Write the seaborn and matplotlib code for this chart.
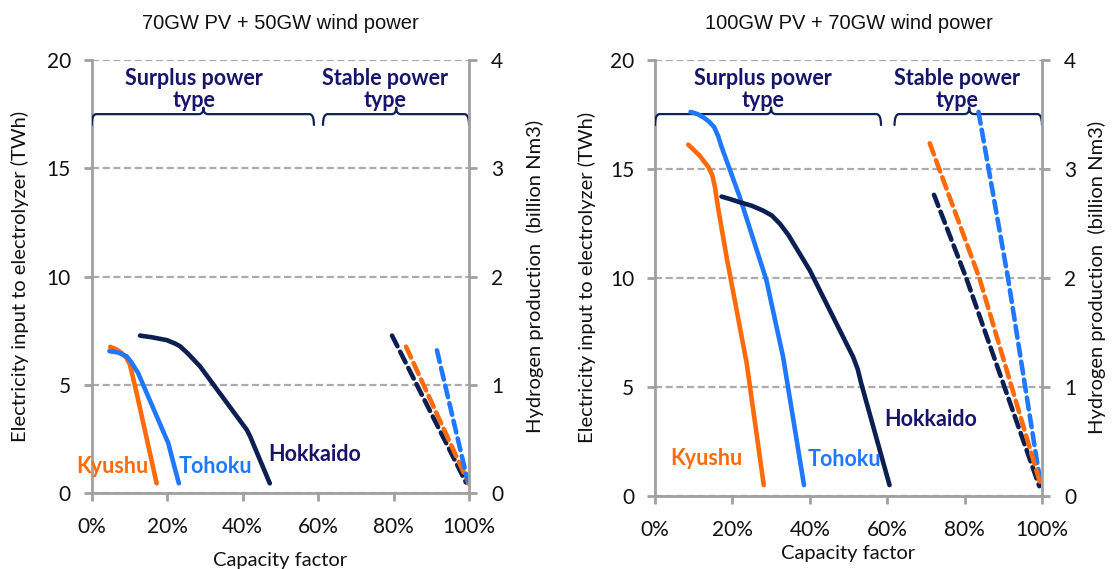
import numpy as np
import pandas as pd
import matplotlib
matplotlib.use("Agg")
import matplotlib.pyplot as plt
from matplotlib.path import Path
from matplotlib.patches import PathPatch
import seaborn as sns

sns.set_theme(style="white")
plt.rcParams["font.family"] = ["Lato", "DejaVu Sans"]

# ---- data: capacity factor (%) vs electricity input (TWh) ----
regions = ["Kyushu", "Tohoku", "Hokkaido"]
colors = {"Kyushu": "#FF6A0A", "Tohoku": "#1F78FF", "Hokkaido": "#0C1F52"}
label_colors = {"Kyushu": "#FF6A0A", "Tohoku": "#1F78FF", "Hokkaido": "#17156B"}

# Case A: 70GW PV + 50GW wind power (surplus power type, solid)
a_kyushu_cf = [4.9, 6.5, 7.9, 9.2, 10.1, 11.0, 12.3, 17.2]
a_kyushu_e = [6.76, 6.65, 6.48, 6.25, 5.95, 5.30, 4.32, 0.46]
a_tohoku_cf = [4.7, 7.0, 9.3, 10.5, 12.3, 20.3, 21.2, 23.1]
a_tohoku_e = [6.56, 6.50, 6.32, 6.05, 5.55, 2.31, 1.70, 0.46]
a_hokkaido_cf = [12.8, 16.0, 19.9, 22.0, 23.4, 25.5, 28.7, 41.1, 42.0, 47.2]
a_hokkaido_e = [7.28, 7.20, 7.07, 6.92, 6.79, 6.45, 5.86, 2.93, 2.62, 0.46]

# Case A: stable power type (dashed)
a_kyushu_st_cf = [83.3, 100.0]
a_kyushu_st_e = [6.77, 0.43]
a_tohoku_st_cf = [91.5, 99.6]
a_tohoku_st_e = [6.60, 0.60]
a_hokkaido_st_cf = [79.6, 99.2]
a_hokkaido_st_e = [7.28, 0.50]

# Case B: 100GW PV + 70GW wind power (surplus power type, solid)
b_kyushu_cf = [8.6, 11.5, 13.8, 14.8, 15.5, 16.3, 18.5, 23.7, 28.1]
b_kyushu_e = [16.1, 15.6, 15.07, 14.7, 14.15, 13.2, 10.95, 6.07, 0.5]
b_tohoku_cf = [9.2, 11.0, 12.5, 14.0, 15.3, 16.3, 17.2, 21.9, 28.8, 33.1, 38.5]
b_tohoku_e = [17.6, 17.5, 17.35, 17.15, 16.9, 16.5, 16.0, 13.7, 9.88, 6.37, 0.5]
b_hokkaido_cf = [17.2, 19.5, 21.9, 25.0, 27.9, 30.2, 32.3, 34.5, 40.0, 51.2, 52.4, 53.3, 60.6]
b_hokkaido_e = [13.72, 13.6, 13.46, 13.3, 13.08, 12.85, 12.47, 11.95, 10.34, 6.37, 5.8, 5.15, 0.5]

# Case B: stable power type (dashed)
b_kyushu_st_cf = [71.0, 83.8, 99.6]
b_kyushu_st_e = [16.16, 10.0, 0.55]
b_tohoku_st_cf = [83.6, 91.2, 99.5]
b_tohoku_st_e = [17.6, 10.0, 0.7]
b_hokkaido_st_cf = [72.1, 80.4, 99.3]
b_hokkaido_st_e = [13.8, 10.0, 0.45]

titles = ["70GW PV + 50GW wind power", "100GW PV + 70GW wind power"]
x_ticks = [0, 20, 40, 60, 80, 100]
y_ticks = [0, 5, 10, 15, 20]
h2_ticks = [0, 1, 2, 3, 4]

# region name labels (cf %, TWh)
a_label_pos = {"Kyushu": (5.6, 1.23), "Tohoku": (32.9, 1.23), "Hokkaido": (59.0, 1.77)}
b_label_pos = {"Kyushu": (13.3, 1.72), "Tohoku": (49.0, 1.65), "Hokkaido": (71.2, 3.49)}

# brace groups: (start, tip, end) in cf %, label centre
a_braces = [(0.0, 29.6, 58.9, 27.0, "Surplus power\ntype"),
            (61.3, 80.7, 100.0, 77.8, "Stable power\ntype")]
b_braces = [(0.0, 30.0, 58.4, 27.8, "Surplus power\ntype"),
            (61.9, 81.2, 100.0, 78.0, "Stable power\ntype")]

cases = [
    dict(title=titles[0],
         solid={"Kyushu": (a_kyushu_cf, a_kyushu_e), "Tohoku": (a_tohoku_cf, a_tohoku_e),
                "Hokkaido": (a_hokkaido_cf, a_hokkaido_e)},
         dashed={"Hokkaido": (a_hokkaido_st_cf, a_hokkaido_st_e), "Kyushu": (a_kyushu_st_cf, a_kyushu_st_e),
                 "Tohoku": (a_tohoku_st_cf, a_tohoku_st_e)},
         labels=a_label_pos, braces=a_braces,
         rect=[0.0824, 0.1330, 0.3390, 0.7616], xlabelpad=11, ylabelpad=13, y2labelpad=16),
    dict(title=titles[1],
         solid={"Kyushu": (b_kyushu_cf, b_kyushu_e), "Tohoku": (b_tohoku_cf, b_tohoku_e),
                "Hokkaido": (b_hokkaido_cf, b_hokkaido_e)},
         dashed={"Hokkaido": (b_hokkaido_st_cf, b_hokkaido_st_e), "Tohoku": (b_tohoku_st_cf, b_tohoku_st_e),
                 "Kyushu": (b_kyushu_st_cf, b_kyushu_st_e)},
         labels=b_label_pos, braces=b_braces,
         rect=[0.5885, 0.1283, 0.3477, 0.7671], xlabelpad=4, ylabelpad=10, y2labelpad=8),
]

GREY = "#A0A0A0"
GRID = "#ABABAB"
NAVY_TEXT = "#17156B"
BRACE = "#0E2257"
TICK_FS = 15
LABEL_FS = 14.5

fig = plt.figure(figsize=(11.13, 5.69), dpi=100)


def draw_brace(ax, x0, xc, x1, y_line=17.5, y_end=17.0, y_tip=17.8, r=1.2):
    verts = [(x0, y_end), (x0, y_line), (x0 + r, y_line),
             (xc - r, y_line), (xc, y_line), (xc, y_tip),
             (xc, y_line), (xc + r, y_line),
             (x1 - r, y_line), (x1, y_line), (x1, y_end)]
    codes = [Path.MOVETO, Path.CURVE3, Path.CURVE3,
             Path.LINETO, Path.CURVE3, Path.CURVE3,
             Path.CURVE3, Path.CURVE3,
             Path.LINETO, Path.CURVE3, Path.CURVE3]
    ax.add_patch(PathPatch(Path(verts, codes), fill=False, edgecolor=BRACE,
                           lw=1.6, capstyle="round", joinstyle="round", zorder=3))


for case in cases:
    ax = fig.add_axes(case["rect"])
    ax.set_xlim(0, 100)
    ax.set_ylim(0, 20)

    for name in regions:
        cf, e = case["solid"][name]
        df = pd.DataFrame({"cf": cf, "e": e})
        sns.lineplot(data=df, x="cf", y="e", ax=ax, sort=False, estimator=None,
                     color=colors[name], lw=3.3, solid_capstyle="round",
                     solid_joinstyle="round", zorder=4)
    for name, (cf, e) in case["dashed"].items():
        df = pd.DataFrame({"cf": cf, "e": e})
        sns.lineplot(data=df, x="cf", y="e", ax=ax, sort=False, estimator=None,
                     color=colors[name], lw=3.3, linestyle=(0, (2.6, 1.35)),
                     dash_capstyle="round", zorder=4)

    # axes styling
    ax.set_xticks(x_ticks)
    ax.set_xticklabels([f"{t}%" for t in x_ticks])
    ax.set_yticks(y_ticks)
    ax.yaxis.grid(True, color=GRID, linestyle=(0, (3.2, 1.6)), lw=1.6)
    ax.xaxis.grid(False)
    ax.set_axisbelow(True)
    for side in ["top", "right"]:
        ax.spines[side].set_visible(False)
    for side in ["left", "bottom"]:
        ax.spines[side].set_color(GREY)
        ax.spines[side].set_linewidth(2.0)
    ax.tick_params(axis="both", which="major", direction="out", length=6, width=2.0,
                   color=GREY, labelsize=TICK_FS, labelcolor="#111111")
    ax.tick_params(axis="y", pad=9, left=True)
    ax.tick_params(axis="x", pad=11, bottom=True)
    ax.set_xlabel("Capacity factor", fontsize=LABEL_FS, color="#111111",
                  labelpad=case["xlabelpad"])
    ax.set_ylabel("Electricity input to electrolyzer (TWh)", fontsize=LABEL_FS,
                  color="#111111", labelpad=case["ylabelpad"])

    ax2 = ax.twinx()
    ax2.set_ylim(0, 4)
    ax2.set_yticks(h2_ticks)
    for side in ["top", "left", "bottom"]:
        ax2.spines[side].set_visible(False)
    ax2.spines["right"].set_color(GREY)
    ax2.spines["right"].set_linewidth(2.0)
    ax2.tick_params(axis="y", direction="out", length=6, width=2.0, color=GREY,
                    labelsize=TICK_FS, labelcolor="#111111", pad=10, right=True)
    ax2.set_ylabel("Hydrogen production  (billion Nm3)", fontsize=LABEL_FS,
                   color="#111111", labelpad=case["y2labelpad"])
    ax2.grid(False)

    # region name labels
    for name, (x, y) in case["labels"].items():
        ax.text(x, y, name, color=label_colors[name], fontsize=15.5, fontweight="bold",
                ha="center", va="center", zorder=5)

    # braces with group captions
    for x0, xc, x1, xt, txt in case["braces"]:
        draw_brace(ax, x0, xc, x1)
        ax.text(xt, 18.62, txt, color=NAVY_TEXT, fontsize=15.5, fontweight="bold",
                ha="center", va="center", linespacing=1.05, zorder=5)

    # panel title
    pos = ax.get_position()
    fig.text((pos.x0 + pos.x1) / 2, 0.958, case["title"], ha="center", va="center",
             fontsize=14.5, family=["Liberation Sans", "DejaVu Sans"], color="#111111")

fig.savefig("out.png", dpi=100, facecolor="white")
